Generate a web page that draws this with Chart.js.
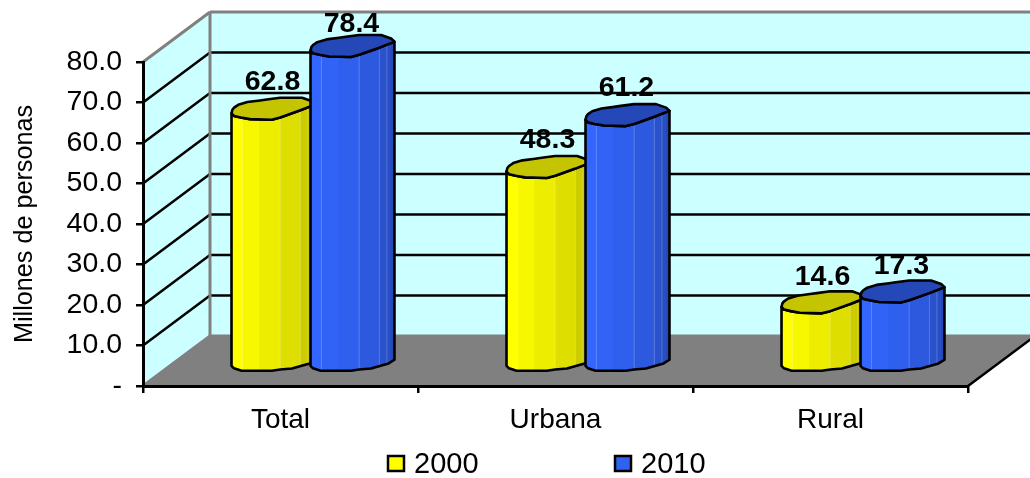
<!DOCTYPE html>
<html><head><meta charset="utf-8">
<style>html,body{margin:0;padding:0;background:#fff}#w{width:1030px;height:478px}canvas{display:block}</style>
<script src="https://cdn.jsdelivr.net/npm/chart.js@4"></script></head>
<body><div id="w"><canvas id="c" width="1030" height="478"></canvas></div>
<script>
const categories = ['Total', 'Urbana', 'Rural'];
const values2000 = [62.8, 48.3, 14.6];
const values2010 = [78.4, 61.2, 17.3];
const seriesNames = ['2000', '2010'];
const tickStep = 10;
const axisMax = 80;

const FONT = '"Liberation Sans", Arial, sans-serif';
const DX = 67, DY = 50;             // depth of the 3D box
const styles = [
  {base:[255,255,0], top:'#C4C400', key:'#FFFF00'},
  {base:[51,102,255], top:'#2548B8', key:'#2F62EE'}
];
// irregular cross-section of the faceted cylinders (u across width, v across ellipse height)
const outline = [[0,.42],[.01,.1],[.03,-.09],[.08,-.35],[.19,-.60],[.34,-.75],[.42,-.84],[.58,-1],[.84,-1],[.96,-.68],[1,-.39],
                 [.82,.15],[.58,.8],[.48,1],[.22,.95],[.11,.8],[.03,.66]];
const topFront = [[0,.42],[.03,.66],[.11,.8],[.22,.95],[.48,1],[.58,.8],[.82,.15],[1,-.39]];
const baseFront = [[0,.55],[.03,.78],[.12,1],[.48,1],[.58,.88],[.72,.79],[.93,.33],[1,0]];
const facets = [[0,.13,1],[.13,.33,.97],[.33,.58,.93],[.58,.82,.87],[.82,.91,.8],[.91,.96,.76],[.96,1,.72]];
const HALF = 11;

function polygon(ctx, pts){ctx.beginPath();pts.forEach((p,i)=>i?ctx.lineTo(p[0],p[1]):ctx.moveTo(p[0],p[1]));ctx.closePath();}
function line(ctx,x1,y1,x2,y2){ctx.beginPath();ctx.moveTo(x1,y1);ctx.lineTo(x2,y2);ctx.stroke();}

const box3d = {
  id:'box3d',
  beforeDraw(chart){
    const {ctx,chartArea:a,scales:{y}} = chart;
    const L=a.left,R=a.right,B=a.bottom,T=a.top,W=chart.width;
    ctx.save();
    ctx.fillStyle='#CCFFFF';
    polygon(ctx,[[L,B],[L+DX,B-DY],[L+DX,T-DY],[L,T]]);ctx.fill();
    ctx.fillRect(L+DX,T-DY,W-L-DX,B-T);
    ctx.fillStyle='#808080';
    polygon(ctx,[[L,B],[R,B],[R+DX,B-DY],[L+DX,B-DY]]);ctx.fill();
    ctx.strokeStyle='#000';ctx.lineWidth=2.5;
    for(let v=tickStep;v<axisMax;v+=tickStep){
      const p=y.getPixelForValue(v);
      line(ctx,L,p,L+DX,p-DY);line(ctx,L+DX,p-DY,W,p-DY);
    }
    ctx.strokeStyle='#808080';ctx.lineWidth=3;
    line(ctx,L,T,L+DX,T-DY);line(ctx,L+DX,T-DY,W,T-DY);
    line(ctx,L+DX,T-DY,L+DX,B-DY);line(ctx,L+DX,B-DY,W,B-DY);line(ctx,L,B,L+DX,B-DY);
    ctx.strokeStyle='#000';ctx.lineWidth=2.5;
    line(ctx,R,B,R+DX,B-DY);
    ctx.restore();
  },
  afterDatasetsDraw(chart){
    const {ctx}=chart;
    ctx.save();
    chart.data.datasets.forEach((ds,di)=>{
      const st=styles[di];
      chart.getDatasetMeta(di).data.forEach(bar=>{
        const w=bar.width, x0=bar.x-w/2+DX*.485, yBase=bar.base-DY/2, yTop=yBase-(bar.base-bar.y)*.992;
        const pt=(o,yc)=>[x0+o[0]*w,yc+o[1]*HALF];
        // body
        const body=[...baseFront.map(o=>pt(o,yBase)).reverse(),...topFront.map(o=>pt(o,yTop))];
        ctx.save();polygon(ctx,body);ctx.clip();
        facets.forEach(f=>{
          ctx.fillStyle=`rgb(${st.base.map(c=>Math.round(c*f[2])).join(',')})`;
          ctx.fillRect(x0+f[0]*w,yTop-HALF-2,(f[1]-f[0])*w+1,yBase-yTop+2*HALF+4);
        });
        ctx.strokeStyle='rgba(255,255,255,.22)';ctx.lineWidth=1;
        [.13,.58,.82,.91].forEach(u=>line(ctx,x0+u*w,yTop-HALF,x0+u*w,yBase+HALF));
        ctx.restore();
        ctx.strokeStyle='#000';ctx.lineWidth=2.6;ctx.lineJoin='round';
        polygon(ctx,body);ctx.stroke();
        // top
        ctx.fillStyle=st.top;
        polygon(ctx,outline.map(o=>pt(o,yTop)));ctx.fill();ctx.stroke();
      });
    });
    ctx.restore();
  },
  afterDraw(chart){
    const {ctx}=chart;
    ctx.save();
    // value labels
    ctx.font='bold 28.5px '+FONT;ctx.fillStyle='#000';ctx.textAlign='center';ctx.textBaseline='middle';
    chart.data.datasets.forEach((ds,di)=>{
      chart.getDatasetMeta(di).data.forEach((bar,i)=>{
        const yc=Math.max(24,bar.y-DY/2-25);
        ctx.fillText(ds.data[i].toFixed(1),bar.x+DX*.47,yc);
      });
    });
    // legend
    const slots=[388,615];
    ctx.font='29px '+FONT;ctx.textAlign='left';
    chart.data.datasets.forEach((ds,di)=>{
      const x=slots[di];
      ctx.fillStyle=styles[di].key;ctx.strokeStyle='#000';ctx.lineWidth=2.5;
      ctx.fillRect(x,456,16,15);ctx.strokeRect(x,456,16,15);
      ctx.fillStyle='#000';
      ctx.fillText(ds.label,x+26,465);
    });
    ctx.restore();
  }
};

new Chart(document.getElementById('c'),{
  type:'bar',
  data:{labels:categories,datasets:[
    {label:seriesNames[0],data:values2000,backgroundColor:'rgba(0,0,0,0)',borderWidth:0},
    {label:seriesNames[1],data:values2010,backgroundColor:'rgba(0,0,0,0)',borderWidth:0}
  ]},
  options:{
    responsive:false,animation:false,
    categoryPercentage:.5745,barPercentage:1.063,
    layout:{padding:{left:10,right:62,top:62,bottom:32}},
    plugins:{legend:{display:false},tooltip:{enabled:false}},
    scales:{
      x:{
        afterFit(s){s.height=60;},
        grid:{drawOnChartArea:false,color:'#000',lineWidth:2.5,tickLength:7,tickColor:'#000',offset:true},
        border:{color:'#000',width:3},
        ticks:{color:'#000',font:{family:FONT,size:28},padding:10,maxRotation:0}
      },
      y:{
        min:0,max:axisMax,
        afterFit(s){s.width=133;},
        grid:{drawOnChartArea:false,color:'#000',lineWidth:2.5,tickLength:7,tickColor:'#000'},
        border:{color:'#000',width:3},
        ticks:{stepSize:tickStep,color:'#000',font:{family:FONT,size:28.5},padding:14,
          callback:v=>v===0?'-':v.toFixed(1)},
        title:{display:true,text:'Millones de personas',color:'#000',font:{family:FONT,size:25.2},padding:0}
      }
    }
  },
  plugins:[box3d]
});
</script></body></html>
